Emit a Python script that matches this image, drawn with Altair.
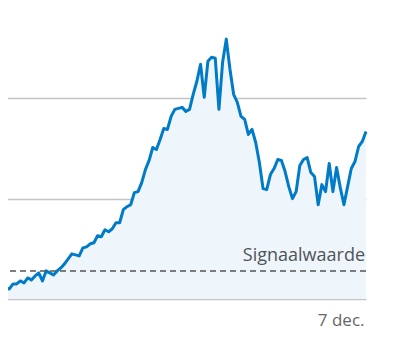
import altair as alt
import pandas as pd

start_date = "2021-08-30"
values = [11, 11, 10, 15, 15, 18, 16, 21, 19, 23,
          26, 18, 28, 26, 24, 28, 31, 35, 40, 45,
          44, 43, 51, 52, 55, 56, 63, 62, 69, 67,
          70, 76, 76, 89, 92, 94, 106, 107, 116, 129,
          138, 151, 149, 159, 170, 169, 182, 189, 190, 191,
          187, 189, 204, 217, 234, 201, 237, 241, 240, 189,
          236, 259, 229, 204, 196, 182, 179, 164, 169, 156,
          136, 110, 109, 124, 130, 139, 138, 127, 112, 100,
          107, 133, 139, 141, 126, 122, 94, 114, 107, 135,
          107, 131, 111, 94, 112, 130, 137, 152, 157, 167]
signal_value = [28]
signal_label = ["Signaalwaarde"]
x_labels = ["7 dec."]
grid_values = [0, 100, 200]

dates = pd.date_range(start_date, periods=len(values), freq="D")
df = pd.DataFrame({"date": dates, "value": values})
last_date = dates[-1]

x_scale = alt.Scale(domain=[dates[0].isoformat(), last_date.isoformat()], nice=False)
y_scale = alt.Scale(domain=[0, 300], nice=False)

x_enc = alt.X(
    "date:T",
    scale=x_scale,
    axis=alt.Axis(
        title=None, grid=False, domain=False, ticks=False,
        values=[last_date.isoformat()],
        labelExpr="'" + x_labels[0] + "'",
        labelAlign="right", labelFontSize=17, labelColor="#666666",
        labelFont="Open Sans", labelPadding=13, labelBaseline="top",
        labelOffset=-2, labelFlush=False, labelBound=False, labelOverlap=False,
    ),
)
y_enc = alt.Y(
    "value:Q",
    scale=y_scale,
    axis=alt.Axis(
        title=None, labels=False, ticks=False, domain=False,
        values=grid_values, grid=True, gridColor="#c4c4c4", gridWidth=1.5,
    ),
)

area = alt.Chart(df).mark_area(color="#eef5fb", opacity=1).encode(x=x_enc, y=y_enc)
line = alt.Chart(df).mark_line(color="#007bc7", strokeWidth=3, strokeJoin="round").encode(
    x=alt.X("date:T", scale=x_scale), y=alt.Y("value:Q", scale=y_scale)
)

sig_df = pd.DataFrame({"value": signal_value, "label": signal_label})
sig_rule = alt.Chart(sig_df).mark_rule(color="#555555", strokeDash=[6, 4], strokeWidth=1.5).encode(
    y=alt.Y("value:Q", scale=y_scale)
)
sig_text = alt.Chart(sig_df).mark_text(
    align="right", baseline="bottom", dy=-6, fontSize=18, font="Open Sans", color="#4f5458"
).encode(
    y=alt.Y("value:Q", scale=y_scale), x=alt.value(363), text="label:N"
)

chart = (
    alt.layer(area, line, sig_rule, sig_text)
    .properties(width=364, height=301, padding={"left": -8, "top": -10, "right": 14, "bottom": 14})
    .configure_view(stroke=None)
)

chart.save("out.html", embed_options={"renderer": "svg", "actions": False})
